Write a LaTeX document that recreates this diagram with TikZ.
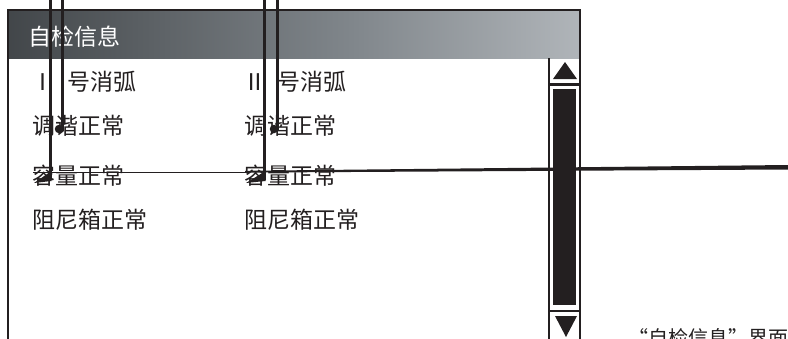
\documentclass[tikz,border=0pt]{standalone}
\usepackage{fontspec}
\setmainfont{Noto Sans CJK SC}
\definecolor{ink}{HTML}{231F20}
\definecolor{gA}{HTML}{141415}
\definecolor{gB}{HTML}{383C3F}
\definecolor{gC}{HTML}{80868B}
\definecolor{gD}{HTML}{C8CCD0}
\definecolor{gE}{HTML}{F7F8F9}
\pgfdeclarehorizontalshading{titlegrad}{100bp}{color(0bp)=(gA); color(20bp)=(gB); color(55bp)=(gC); color(85bp)=(gD); color(100bp)=(gE)}
\begin{document}
\begin{tikzpicture}[x=1pt,y=-1pt,
  rowtxt/.style={anchor=west,inner sep=0pt,text=ink,font=\fontsize{23}{24}\selectfont},
  frameline/.style={draw=ink,line width=2.2pt},
  leader/.style={draw=ink,line width=3pt},
  dotmark/.style={circle,fill=ink,inner sep=0pt,minimum size=8.5pt},
  tri/.style={fill=ink}]
\useasboundingbox (0,0) rectangle (788,338);
\clip (0,0) rectangle (788,338);
% title bar
\shade[shading=titlegrad] (8,11) rectangle (580,58);
\node[rowtxt,text=white,anchor=west] (title) at (28,37) {自检信息};
% frame
\draw[frameline] (8,340) -- (8,10) -- (580,10) -- (580,340);
\draw[frameline] (549,58) -- (549,340);
% scrollbar
\fill[ink] (565,62) -- (577,79) -- (553,79) -- cycle;
\draw[draw=ink,line width=3pt] (549,84) -- (580,84);
\fill[ink] (553,89) rectangle (576,305);
\draw[draw=ink,line width=2.5pt] (549,311) -- (580,311);
\fill[ink] (555,316) -- (577,316) -- (566,337) -- cycle;
% rows
\node[rowtxt] (r1a) at (31,82) {Ⅰ\hspace{13pt}号消弧};
\node[rowtxt] (r1b) at (243,82) {Ⅱ\hspace{11pt}号消弧};
\node[rowtxt] (r2a) at (32,126) {调谐正常};
\node[rowtxt] (r2b) at (244,126) {调谐正常};
\node[rowtxt] (r3a) at (32,176) {容量正常};
\node[rowtxt] (r3b) at (244,176) {容量正常};
\node[rowtxt] (r4a) at (32,220) {阻尼箱正常};
\node[rowtxt] (r4b) at (244,220) {阻尼箱正常};
% caption
\node[rowtxt,font=\fontsize{20}{20}\selectfont] (cap) at (628,338) {“自检信息”界面};
% horizontal leader
\coordinate (hA) at (33,172);
\coordinate (hB) at (250,172);
\draw[draw=ink,line width=0.8pt] (hA) -- (hB);
\fill[ink] (245,170.8) -- (788,165) -- (788,169.5) -- (245,172.6) -- cycle;
% dots
\node[dotmark] (d1) at (59,129) {};
\node[dotmark] (d2) at (274,129) {};
% vertical leaders
\coordinate (t1) at (50,-2);
\coordinate (t2) at (62,-2);
\coordinate (t3) at (264,-2);
\coordinate (t4) at (277,-2);
\coordinate (e1) at (50,180);
\coordinate (e3) at (264,180);
\draw[leader] (t2) -- (62,129) -- (d1.center);
\draw[leader] (t4) -- (277,129) -- (d2.center);
\draw[leader] (t1) -- (e1);
\draw[leader] (t3) -- (e3);
% arrow barbs
\fill[ink] (51.5,171) -- (51.5,181) -- (34,183) -- cycle;
\fill[ink] (265.5,171) -- (265.5,181) -- (246,183) -- cycle;
\end{tikzpicture}
\end{document}
